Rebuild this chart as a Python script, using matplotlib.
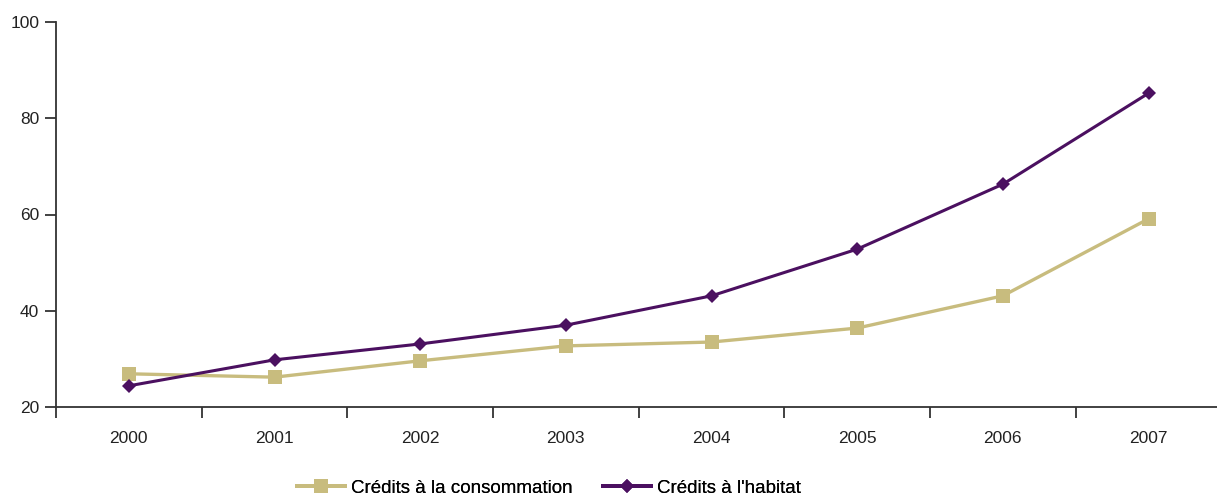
import matplotlib
matplotlib.use("Agg")
import matplotlib.pyplot as plt
from matplotlib.lines import Line2D
import numpy as np

years = ["2000", "2001", "2002", "2003", "2004", "2005", "2006", "2007"]
consommation = [26.9, 26.2, 29.6, 32.7, 33.5, 36.4, 43.1, 59.1]
habitat = [24.4, 29.8, 33.1, 37.0, 43.1, 52.8, 66.3, 85.2]
label_conso = "Crédits à la consommation"
label_habitat = "Crédits à l'habitat"

tan = "#C8BC7E"
purple = "#4B1060"
axis_col = "#333333"

plt.rcParams["font.family"] = ["Liberation Sans", "DejaVu Sans"]

W, H = 1217, 497
fig = plt.figure(figsize=(W / 100, H / 100), dpi=100)
ax = fig.add_axes([56 / W, (H - 407) / H, (W - 56) / W, 385 / H])

x = np.arange(len(years))
ax.plot(x, consommation, color=tan, lw=2.4, marker="s", ms=9.5,
        markeredgewidth=0, zorder=3, clip_on=False)
ax.plot(x, habitat, color=purple, lw=2.2, marker="D", ms=7.5,
        markeredgewidth=0, zorder=4, clip_on=False)

ax.set_xlim(-0.5, 7.47)
ax.set_ylim(20, 100)
ax.set_yticks([20, 40, 60, 80, 100])
ax.set_xticks(x)
ax.set_xticklabels(years)
ax.set_xticks(np.arange(-0.5, 7.5, 1.0), minor=True)

for s in ["top", "right"]:
    ax.spines[s].set_visible(False)
for s in ["left", "bottom"]:
    ax.spines[s].set_color(axis_col)
    ax.spines[s].set_linewidth(1.3)

ax.tick_params(axis="x", which="major", length=0, pad=17, labelsize=12.5, labelcolor="#222222")
ax.tick_params(axis="x", which="minor", length=8, width=1.3, color=axis_col, direction="out")
ax.tick_params(axis="y", length=8, width=1.3, color=axis_col, pad=4, labelsize=12.5, labelcolor="#222222")

# Two legend entries, each placed on its own along the bottom row
entries = [
    (Line2D([], [], color=tan, lw=2.8, marker="s", ms=9.5, markeredgewidth=0),
     label_conso, 297),
    (Line2D([], [], color=purple, lw=2.8, marker="D", ms=7.5, markeredgewidth=0),
     label_habitat, 603),
]
for handle, label, xpix in entries:
    leg = fig.legend([handle], [label], loc="center left",
                     bbox_to_anchor=(xpix / W, 1 - 488 / H), frameon=False,
                     fontsize=13.5, handlelength=2.55, handletextpad=0.35,
                     borderpad=0, borderaxespad=0)
    fig.add_artist(leg)

fig.savefig("out.png", dpi=100)
